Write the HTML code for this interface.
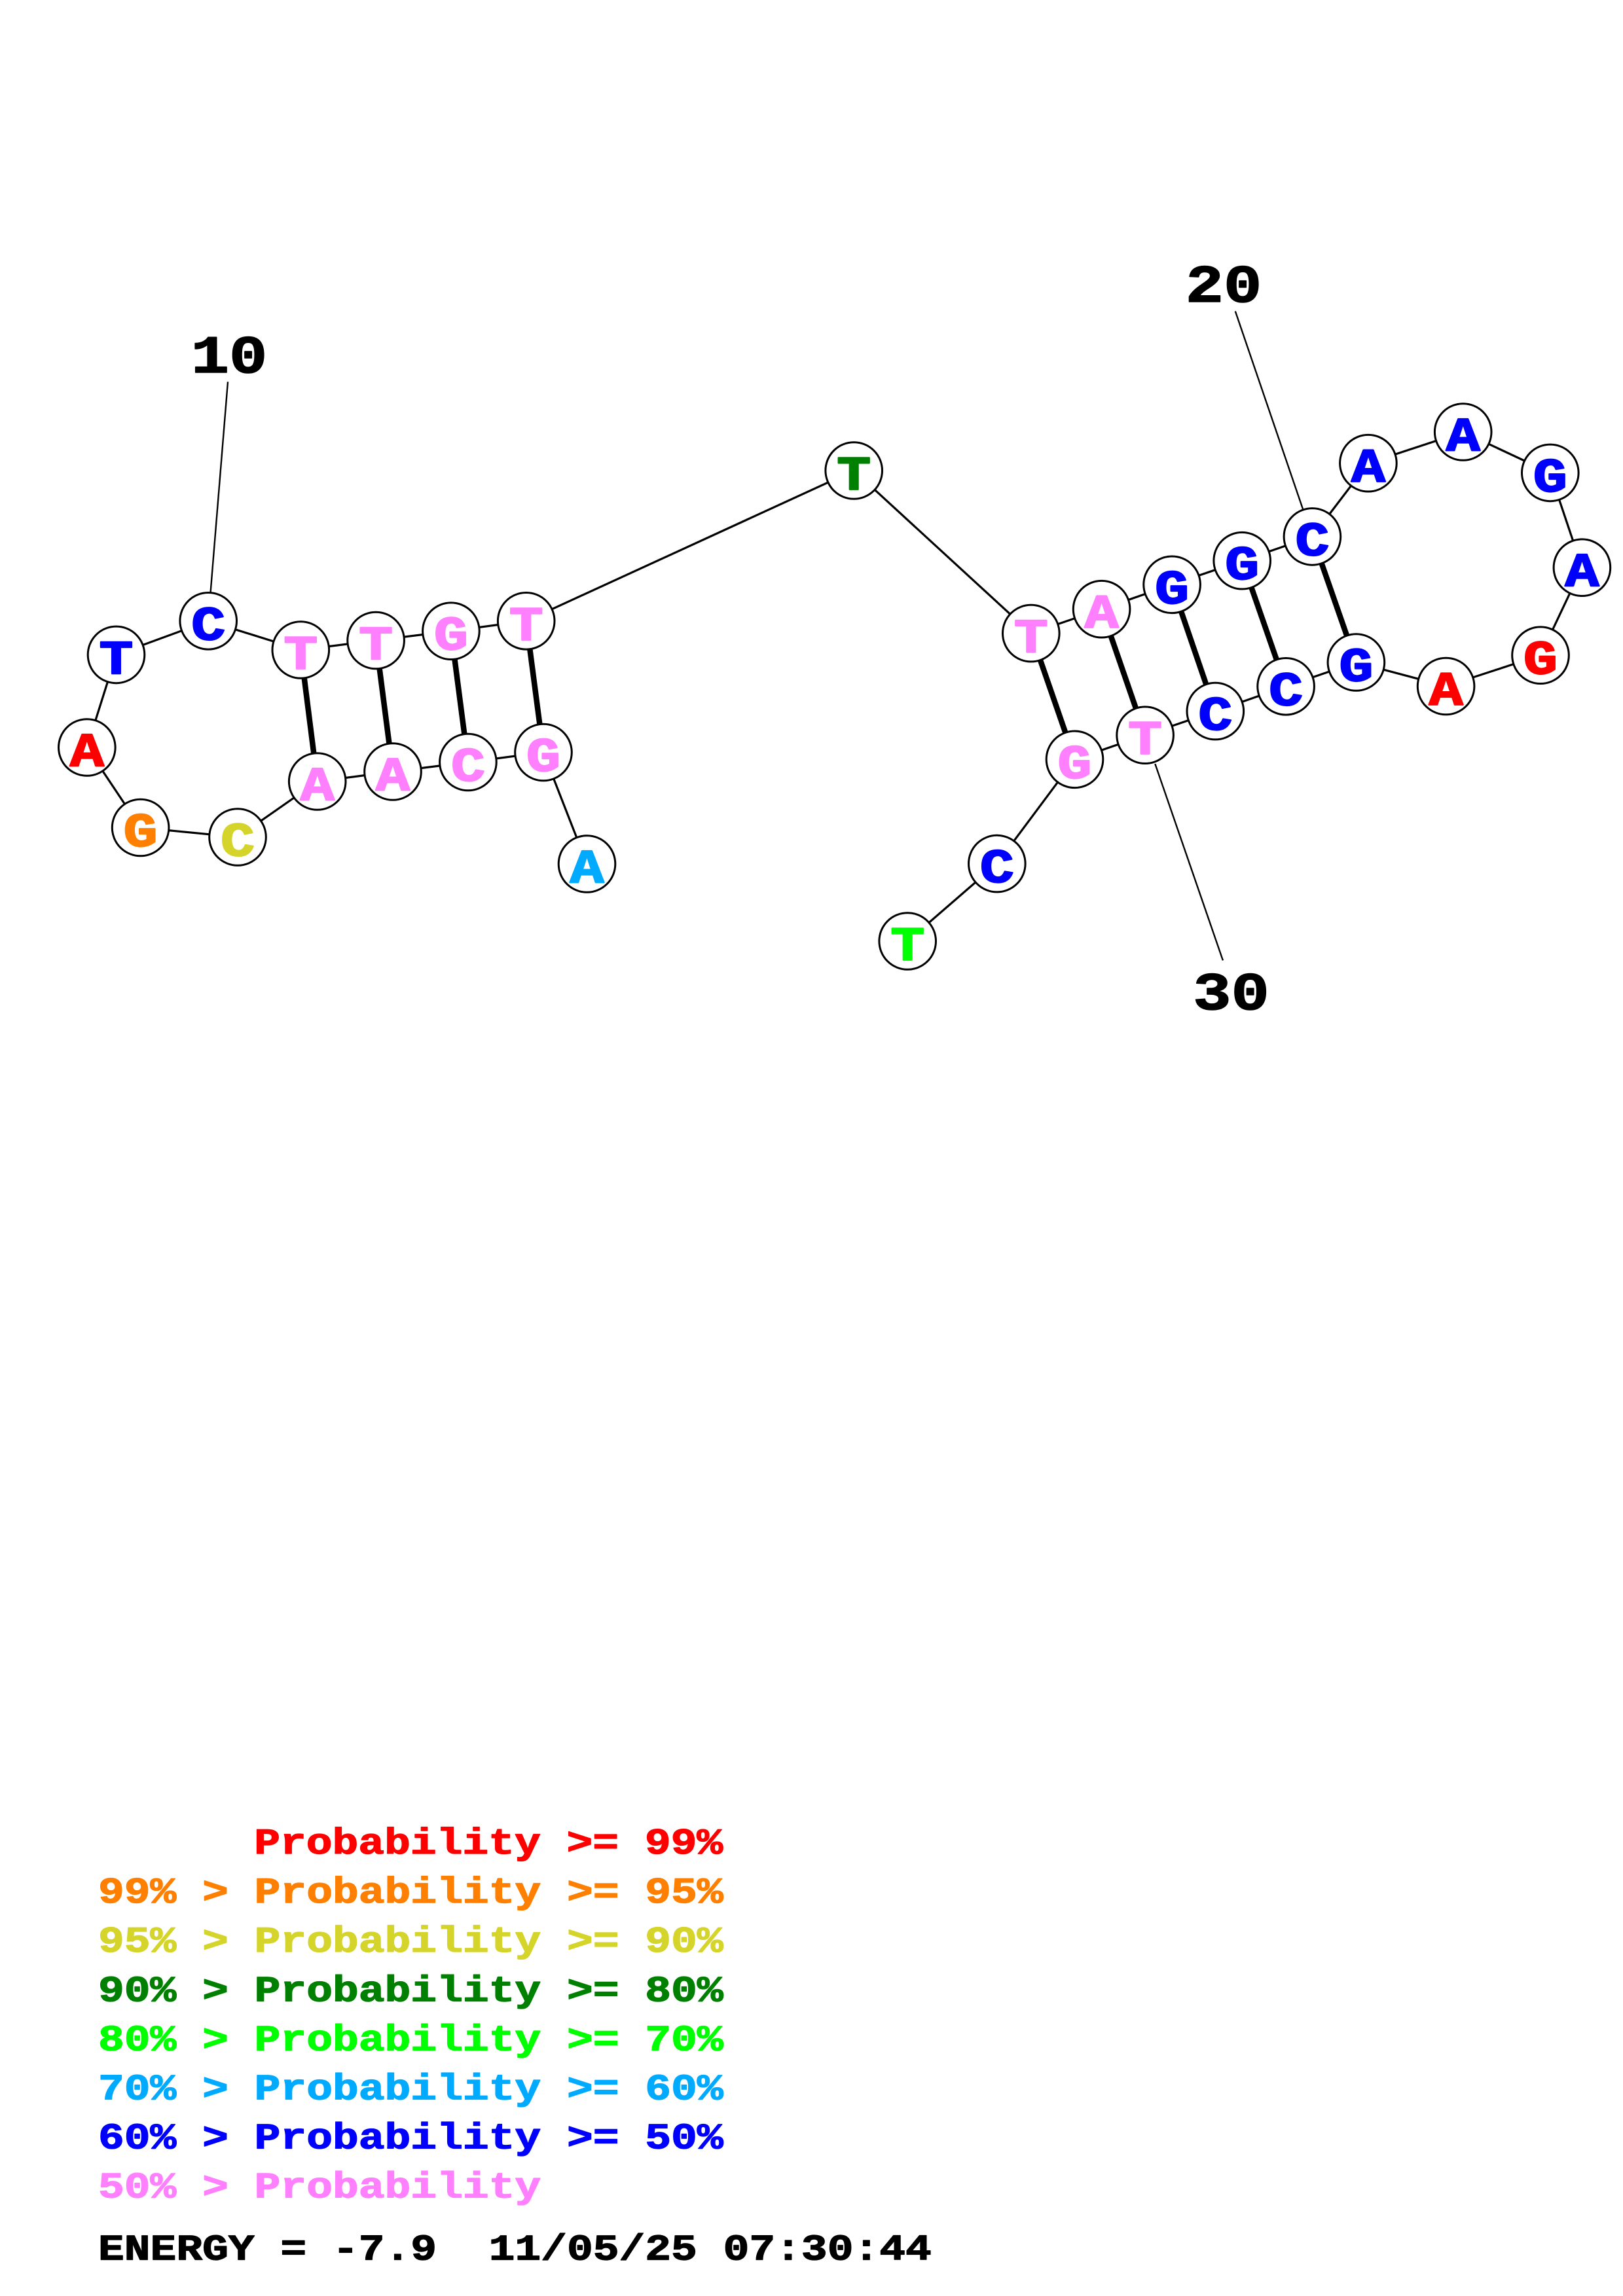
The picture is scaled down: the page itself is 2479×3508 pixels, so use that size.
<!DOCTYPE html>
<html>
<head>
<meta charset="utf-8">
<style>
html,body{margin:0;padding:0;background:#fff;}
svg{display:block;}
text{font-family:"Liberation Mono","DejaVu Sans Mono",monospace;font-weight:bold;white-space:pre;}
</style>
</head>
<body>
<svg xmlns="http://www.w3.org/2000/svg" width="2479" height="3508" viewBox="0 0 2479 3508">
<rect width="2479" height="3508" fill="#fff"/>

<!-- number label lines -->
<g stroke="#000" stroke-width="2.4" fill="none">
<line x1="348" y1="583.3" x2="321.6" y2="904.7"/>
<line x1="1886.8" y1="475.5" x2="1990.4" y2="778.9"/>
<line x1="1764.3" y1="1167" x2="1867.9" y2="1467.4"/>
</g>

<!-- backbone -->
<polyline fill="none" stroke="#000" stroke-width="3.2" points="896.5,1320 830,1149.5 714.9,1164.5 600,1179 484.7,1194 363,1279 214.6,1264.5 132.8,1142 177.5,1000.4 318.2,948.8 459.3,993 574.1,978.5 688.9,964.2 803.7,948.8 1304.2,719 1574.8,967.6 1682.6,930.7 1790.1,893.3 1897.2,856.7 2004.4,819.9 2089.9,707.7 2234.7,660 2367.8,722.4 2416.4,867.2 2353,1001.2 2208.6,1048.5 2071.4,1012 1964.1,1048.8 1856.3,1086.6 1749.1,1123.2 1641.5,1160.3 1522.8,1319.6 1386.2,1438"/>

<!-- base pairs -->
<g stroke="#000" stroke-width="8.5">
<line x1="459.3" y1="993" x2="484.7" y2="1194"/>
<line x1="574.1" y1="978.5" x2="600" y2="1179"/>
<line x1="688.9" y1="964.2" x2="714.9" y2="1164.5"/>
<line x1="803.7" y1="948.8" x2="830" y2="1149.5"/>
<line x1="1574.8" y1="967.6" x2="1641.5" y2="1160.3"/>
<line x1="1682.6" y1="930.7" x2="1749.1" y2="1123.2"/>
<line x1="1790.1" y1="893.3" x2="1856.3" y2="1086.6"/>
<line x1="1897.2" y1="856.7" x2="1964.1" y2="1048.8"/>
<line x1="2004.4" y1="819.9" x2="2071.4" y2="1012"/>
</g>

<!-- nodes -->
<g fill="#fff" stroke="#000" stroke-width="3">
<circle cx="896.5" cy="1320" r="43.3"/>
<circle cx="830" cy="1149.5" r="43.3"/>
<circle cx="714.9" cy="1164.5" r="43.3"/>
<circle cx="600" cy="1179" r="43.3"/>
<circle cx="484.7" cy="1194" r="43.3"/>
<circle cx="363" cy="1279" r="43.3"/>
<circle cx="214.6" cy="1264.5" r="43.3"/>
<circle cx="132.8" cy="1142" r="43.3"/>
<circle cx="177.5" cy="1000.4" r="43.3"/>
<circle cx="318.2" cy="948.8" r="43.3"/>
<circle cx="459.3" cy="993" r="43.3"/>
<circle cx="574.1" cy="978.5" r="43.3"/>
<circle cx="688.9" cy="964.2" r="43.3"/>
<circle cx="803.7" cy="948.8" r="43.3"/>
<circle cx="1304.2" cy="719" r="43.3"/>
<circle cx="1574.8" cy="967.6" r="43.3"/>
<circle cx="1682.6" cy="930.7" r="43.3"/>
<circle cx="1790.1" cy="893.3" r="43.3"/>
<circle cx="1897.2" cy="856.7" r="43.3"/>
<circle cx="2004.4" cy="819.9" r="43.3"/>
<circle cx="2089.9" cy="707.7" r="43.3"/>
<circle cx="2234.7" cy="660" r="43.3"/>
<circle cx="2367.8" cy="722.4" r="43.3"/>
<circle cx="2416.4" cy="867.2" r="43.3"/>
<circle cx="2353" cy="1001.2" r="43.3"/>
<circle cx="2208.6" cy="1048.5" r="43.3"/>
<circle cx="2071.4" cy="1012" r="43.3"/>
<circle cx="1964.1" cy="1048.8" r="43.3"/>
<circle cx="1856.3" cy="1086.6" r="43.3"/>
<circle cx="1749.1" cy="1123.2" r="43.3"/>
<circle cx="1641.5" cy="1160.3" r="43.3"/>
<circle cx="1522.8" cy="1319.6" r="43.3"/>
<circle cx="1386.2" cy="1438" r="43.3"/>
</g>

<!-- nucleotide letters -->
<g font-size="73" text-anchor="middle" stroke-width="2.2" stroke-linejoin="round">
<text transform="translate(896.5,1348.5) scale(1.185,1)" fill="#00AAFF" stroke="#00AAFF">A</text>
<text transform="translate(830,1178) scale(1.185,1)" fill="#FF80FF" stroke="#FF80FF">G</text>
<text transform="translate(714.9,1193) scale(1.185,1)" fill="#FF80FF" stroke="#FF80FF">C</text>
<text transform="translate(600,1207.5) scale(1.185,1)" fill="#FF80FF" stroke="#FF80FF">A</text>
<text transform="translate(484.7,1222.5) scale(1.185,1)" fill="#FF80FF" stroke="#FF80FF">A</text>
<text transform="translate(363,1307.5) scale(1.185,1)" fill="#D4D42A" stroke="#D4D42A">C</text>
<text transform="translate(214.6,1293) scale(1.185,1)" fill="#FF8000" stroke="#FF8000">G</text>
<text transform="translate(132.8,1170.5) scale(1.185,1)" fill="#FF0000" stroke="#FF0000">A</text>
<text transform="translate(177.5,1028.9) scale(1.185,1)" fill="#0000FF" stroke="#0000FF">T</text>
<text transform="translate(318.2,977.3) scale(1.185,1)" fill="#0000FF" stroke="#0000FF">C</text>
<text transform="translate(459.3,1021.5) scale(1.185,1)" fill="#FF80FF" stroke="#FF80FF">T</text>
<text transform="translate(574.1,1007) scale(1.185,1)" fill="#FF80FF" stroke="#FF80FF">T</text>
<text transform="translate(688.9,992.7) scale(1.185,1)" fill="#FF80FF" stroke="#FF80FF">G</text>
<text transform="translate(803.7,977.3) scale(1.185,1)" fill="#FF80FF" stroke="#FF80FF">T</text>
<text transform="translate(1304.2,747.5) scale(1.185,1)" fill="#008000" stroke="#008000">T</text>
<text transform="translate(1574.8,996.1) scale(1.185,1)" fill="#FF80FF" stroke="#FF80FF">T</text>
<text transform="translate(1682.6,959.2) scale(1.185,1)" fill="#FF80FF" stroke="#FF80FF">A</text>
<text transform="translate(1790.1,921.8) scale(1.185,1)" fill="#0000FF" stroke="#0000FF">G</text>
<text transform="translate(1897.2,885.2) scale(1.185,1)" fill="#0000FF" stroke="#0000FF">G</text>
<text transform="translate(2004.4,848.4) scale(1.185,1)" fill="#0000FF" stroke="#0000FF">C</text>
<text transform="translate(2089.9,736.2) scale(1.185,1)" fill="#0000FF" stroke="#0000FF">A</text>
<text transform="translate(2234.7,688.5) scale(1.185,1)" fill="#0000FF" stroke="#0000FF">A</text>
<text transform="translate(2367.8,750.9) scale(1.185,1)" fill="#0000FF" stroke="#0000FF">G</text>
<text transform="translate(2416.4,895.7) scale(1.185,1)" fill="#0000FF" stroke="#0000FF">A</text>
<text transform="translate(2353,1029.7) scale(1.185,1)" fill="#FF0000" stroke="#FF0000">G</text>
<text transform="translate(2208.6,1077) scale(1.185,1)" fill="#FF0000" stroke="#FF0000">A</text>
<text transform="translate(2071.4,1040.5) scale(1.185,1)" fill="#0000FF" stroke="#0000FF">G</text>
<text transform="translate(1964.1,1077.3) scale(1.185,1)" fill="#0000FF" stroke="#0000FF">C</text>
<text transform="translate(1856.3,1115.1) scale(1.185,1)" fill="#0000FF" stroke="#0000FF">C</text>
<text transform="translate(1749.1,1151.7) scale(1.185,1)" fill="#FF80FF" stroke="#FF80FF">T</text>
<text transform="translate(1641.5,1188.8) scale(1.185,1)" fill="#FF80FF" stroke="#FF80FF">G</text>
<text transform="translate(1522.8,1348.1) scale(1.185,1)" fill="#0000FF" stroke="#0000FF">C</text>
<text transform="translate(1386.2,1466.5) scale(1.185,1)" fill="#00FF00" stroke="#00FF00">T</text>
</g>

<!-- number labels -->
<g font-size="82" text-anchor="middle" fill="#000" stroke="#000" stroke-width="1.5" stroke-linejoin="round">
<text transform="translate(350,569) scale(1.185,1)">10</text>
<text transform="translate(1869,461) scale(1.185,1)">20</text>
<text transform="translate(1880.5,1542) scale(1.185,1)">30</text>
</g>

<!-- legend -->
<g font-size="55.7" stroke-width="1.3" stroke-linejoin="round">
<text transform="translate(388.2,2832) scale(1.19,1)" fill="#FF0000" stroke="#FF0000">Probability &gt;= 99%</text>
<text transform="translate(150,2907.1) scale(1.19,1)" fill="#FF8000" stroke="#FF8000" xml:space="preserve">99% &gt; Probability &gt;= 95%</text>
<text transform="translate(150,2982.2) scale(1.19,1)" fill="#D4D42A" stroke="#D4D42A" xml:space="preserve">95% &gt; Probability &gt;= 90%</text>
<text transform="translate(150,3057.3) scale(1.19,1)" fill="#008000" stroke="#008000" xml:space="preserve">90% &gt; Probability &gt;= 80%</text>
<text transform="translate(150,3132.4) scale(1.19,1)" fill="#00FF00" stroke="#00FF00" xml:space="preserve">80% &gt; Probability &gt;= 70%</text>
<text transform="translate(150,3207.5) scale(1.19,1)" fill="#00AAFF" stroke="#00AAFF" xml:space="preserve">70% &gt; Probability &gt;= 60%</text>
<text transform="translate(150,3282.6) scale(1.19,1)" fill="#0000FF" stroke="#0000FF" xml:space="preserve">60% &gt; Probability &gt;= 50%</text>
<text transform="translate(150,3357.7) scale(1.19,1)" fill="#FF80FF" stroke="#FF80FF" xml:space="preserve">50% &gt; Probability</text>
<text transform="translate(150,3452.6) scale(1.19,1)" fill="#000" stroke="#000" xml:space="preserve">ENERGY = -7.9  11/05/25 07:30:44</text>
</g>
</svg>
</body>
</html>
